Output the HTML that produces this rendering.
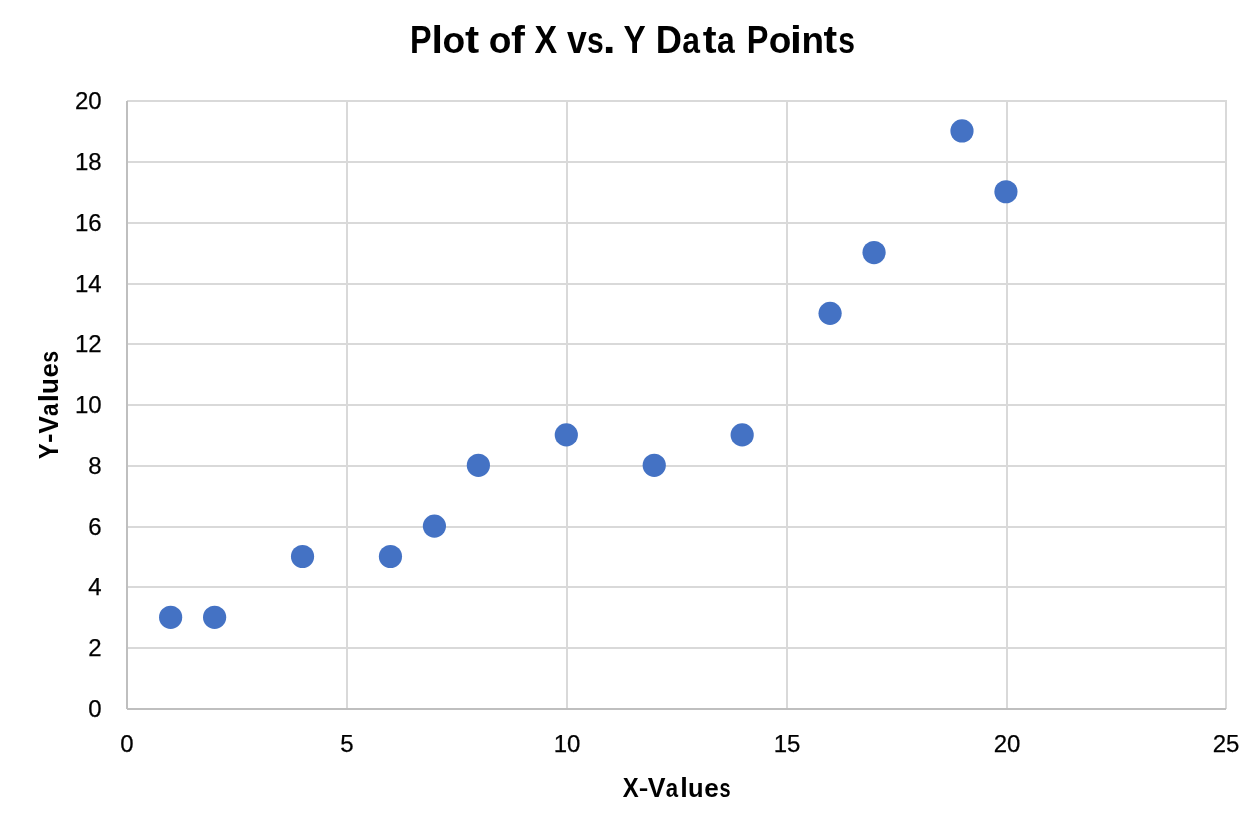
<!DOCTYPE html><html><head><meta charset="utf-8"><title>Plot of X vs. Y Data Points</title><style>
html,body{margin:0;padding:0;background:#fff;width:1255px;height:819px;overflow:hidden;}
svg{position:absolute;left:0;top:0;will-change:transform;}
text{font-family:"Liberation Sans",sans-serif;fill:#000;}
.b{font-weight:bold;}
</style></head><body>
<svg width="1255" height="819" viewBox="0 0 1255 819">
<g shape-rendering="crispEdges">
<rect x="127" y="100" width="1100" height="2" fill="#d9d9d9"/>
<rect x="127" y="161" width="1100" height="2" fill="#d9d9d9"/>
<rect x="127" y="222" width="1100" height="2" fill="#d9d9d9"/>
<rect x="127" y="283" width="1100" height="2" fill="#d9d9d9"/>
<rect x="127" y="343" width="1100" height="2" fill="#d9d9d9"/>
<rect x="127" y="404" width="1100" height="2" fill="#d9d9d9"/>
<rect x="127" y="465" width="1100" height="2" fill="#d9d9d9"/>
<rect x="127" y="526" width="1100" height="2" fill="#d9d9d9"/>
<rect x="127" y="586" width="1100" height="2" fill="#d9d9d9"/>
<rect x="127" y="647" width="1100" height="2" fill="#d9d9d9"/>
<rect x="346" y="100" width="2" height="609" fill="#d9d9d9"/>
<rect x="566" y="100" width="2" height="609" fill="#d9d9d9"/>
<rect x="786" y="100" width="2" height="609" fill="#d9d9d9"/>
<rect x="1006" y="100" width="2" height="609" fill="#d9d9d9"/>
<rect x="1225" y="100" width="2" height="609" fill="#d9d9d9"/>
<rect x="126" y="101" width="2" height="608" fill="#bfbfbf"/>
<rect x="127" y="708" width="1099" height="2" fill="#bfbfbf"/>
</g>
<circle cx="170.63" cy="617.28" r="11.6" fill="#4472C4"/>
<circle cx="214.60" cy="617.28" r="11.6" fill="#4472C4"/>
<circle cx="302.53" cy="556.49" r="11.6" fill="#4472C4"/>
<circle cx="390.45" cy="556.49" r="11.6" fill="#4472C4"/>
<circle cx="434.42" cy="526.09" r="11.6" fill="#4472C4"/>
<circle cx="478.38" cy="465.30" r="11.6" fill="#4472C4"/>
<circle cx="566.31" cy="434.91" r="11.6" fill="#4472C4"/>
<circle cx="654.24" cy="465.30" r="11.6" fill="#4472C4"/>
<circle cx="742.17" cy="434.91" r="11.6" fill="#4472C4"/>
<circle cx="830.09" cy="313.33" r="11.6" fill="#4472C4"/>
<circle cx="874.06" cy="252.54" r="11.6" fill="#4472C4"/>
<circle cx="961.99" cy="130.96" r="11.6" fill="#4472C4"/>
<circle cx="1005.95" cy="191.75" r="11.6" fill="#4472C4"/>
<text x="101.6" y="108.59" font-size="24" text-anchor="end" stroke="#000" stroke-width="0.25">20</text>
<text x="101.6" y="169.59" font-size="24" text-anchor="end" stroke="#000" stroke-width="0.25">18</text>
<text x="101.6" y="230.59" font-size="24" text-anchor="end" stroke="#000" stroke-width="0.25">16</text>
<text x="101.6" y="291.59" font-size="24" text-anchor="end" stroke="#000" stroke-width="0.25">14</text>
<text x="101.6" y="351.59" font-size="24" text-anchor="end" stroke="#000" stroke-width="0.25">12</text>
<text x="101.6" y="412.59" font-size="24" text-anchor="end" stroke="#000" stroke-width="0.25">10</text>
<text x="101.6" y="473.59" font-size="24" text-anchor="end" stroke="#000" stroke-width="0.25">8</text>
<text x="101.6" y="534.59" font-size="24" text-anchor="end" stroke="#000" stroke-width="0.25">6</text>
<text x="101.6" y="594.59" font-size="24" text-anchor="end" stroke="#000" stroke-width="0.25">4</text>
<text x="101.6" y="655.59" font-size="24" text-anchor="end" stroke="#000" stroke-width="0.25">2</text>
<text x="101.6" y="716.59" font-size="24" text-anchor="end" stroke="#000" stroke-width="0.25">0</text>
<text x="127" y="751.99" font-size="24" text-anchor="middle" stroke="#000" stroke-width="0.25">0</text>
<text x="347" y="751.99" font-size="24" text-anchor="middle" stroke="#000" stroke-width="0.25">5</text>
<text x="567" y="751.99" font-size="24" text-anchor="middle" stroke="#000" stroke-width="0.25">10</text>
<text x="787" y="751.99" font-size="24" text-anchor="middle" stroke="#000" stroke-width="0.25">15</text>
<text x="1007" y="751.99" font-size="24" text-anchor="middle" stroke="#000" stroke-width="0.25">20</text>
<text x="1226" y="751.99" font-size="24" text-anchor="middle" stroke="#000" stroke-width="0.25">25</text>
<g>
<text class="b" transform="translate(409.91 52.85) scale(0.8364 1.0094)" font-size="38.66">P</text>
<text class="b" transform="translate(431.47 52.85) scale(1.0667 0.9982)" font-size="38.66">l</text>
<text class="b" transform="translate(442.46 52.85) scale(0.9610 0.9566)" font-size="38.66">o</text>
<text class="b" transform="translate(464.95 52.85) scale(1.1000 0.9802)" font-size="38.66">t</text>
<text class="b" transform="translate(488.86 52.85) scale(0.9610 0.9566)" font-size="38.66">o</text>
<text class="b" transform="translate(511.09 52.85) scale(1.0776 0.9982)" font-size="38.66">f</text>
<text class="b" transform="translate(534.56 52.85) scale(0.8768 1.0094)" font-size="38.66">X</text>
<text class="b" transform="translate(567.07 52.85) scale(0.9190 0.9852)" font-size="38.66">v</text>
<text class="b" transform="translate(587.03 52.85) scale(0.7784 0.9452)" font-size="38.66">s</text>
<text class="b" transform="translate(602.70 52.85) scale(1.2000 1.0348)" font-size="38.66">.</text>
<text class="b" transform="translate(623.45 52.85) scale(0.8619 1.0094)" font-size="38.66">Y</text>
<text class="b" transform="translate(655.65 52.85) scale(0.9389 1.0132)" font-size="38.66">D</text>
<text class="b" transform="translate(682.27 52.85) scale(0.8244 0.9357)" font-size="38.66">a</text>
<text class="b" transform="translate(702.66 52.85) scale(1.0750 0.9802)" font-size="38.66">t</text>
<text class="b" transform="translate(717.07 52.85) scale(0.8244 0.9405)" font-size="38.66">a</text>
<text class="b" transform="translate(746.70 52.85) scale(0.8409 1.0094)" font-size="38.66">P</text>
<text class="b" transform="translate(768.67 52.85) scale(0.9561 0.9566)" font-size="38.66">o</text>
<text class="b" transform="translate(789.96 52.85) scale(1.1048 0.9982)" font-size="38.66">i</text>
<text class="b" transform="translate(801.51 52.85) scale(0.9547 0.9566)" font-size="38.66">n</text>
<text class="b" transform="translate(823.57 52.85) scale(1.0583 0.9802)" font-size="38.66">t</text>
<text class="b" transform="translate(838.23 52.85) scale(0.7784 0.9452)" font-size="38.66">s</text>
</g><g>
<text class="b" transform="translate(622.68 796.85) scale(0.8676 1.0107)" font-size="27.5">X</text>
<text class="b" transform="translate(638.65 795.37) scale(1.0500 0.8308)" font-size="27.5">-</text>
<text class="b" transform="translate(647.76 796.85) scale(0.9690 1.0107)" font-size="27.5">V</text>
<text class="b" transform="translate(665.79 796.85) scale(0.8068 0.9322)" font-size="27.5">a</text>
<text class="b" transform="translate(680.23 796.85) scale(0.9867 1.0101)" font-size="27.5">l</text>
<text class="b" transform="translate(687.98 796.85) scale(0.9283 0.9552)" font-size="27.5">u</text>
<text class="b" transform="translate(704.15 796.85) scale(0.9509 0.9390)" font-size="27.5">e</text>
<text class="b" transform="translate(719.48 796.85) scale(0.7245 0.9390)" font-size="27.5">s</text>
</g><g>
<text class="b" transform="translate(58.00 459.13) rotate(-90) scale(0.8696 1.0160)" font-size="27.5">Y</text>
<text class="b" transform="translate(56.88 442.94) rotate(-90) scale(1.0429 0.9231)" font-size="27.5">-</text>
<text class="b" transform="translate(58.00 433.74) rotate(-90) scale(0.9690 1.0160)" font-size="27.5">V</text>
<text class="b" transform="translate(58.00 416.11) rotate(-90) scale(0.8136 0.9695)" font-size="27.5">a</text>
<text class="b" transform="translate(58.00 402.16) rotate(-90) scale(1.0800 1.0177)" font-size="27.5">l</text>
<text class="b" transform="translate(58.00 393.95) rotate(-90) scale(0.9434 0.9862)" font-size="27.5">u</text>
<text class="b" transform="translate(58.00 377.49) rotate(-90) scale(0.9396 0.9695)" font-size="27.5">e</text>
<text class="b" transform="translate(58.00 362.67) rotate(-90) scale(0.7698 0.9695)" font-size="27.5">s</text>
</g>
</svg></body></html>
